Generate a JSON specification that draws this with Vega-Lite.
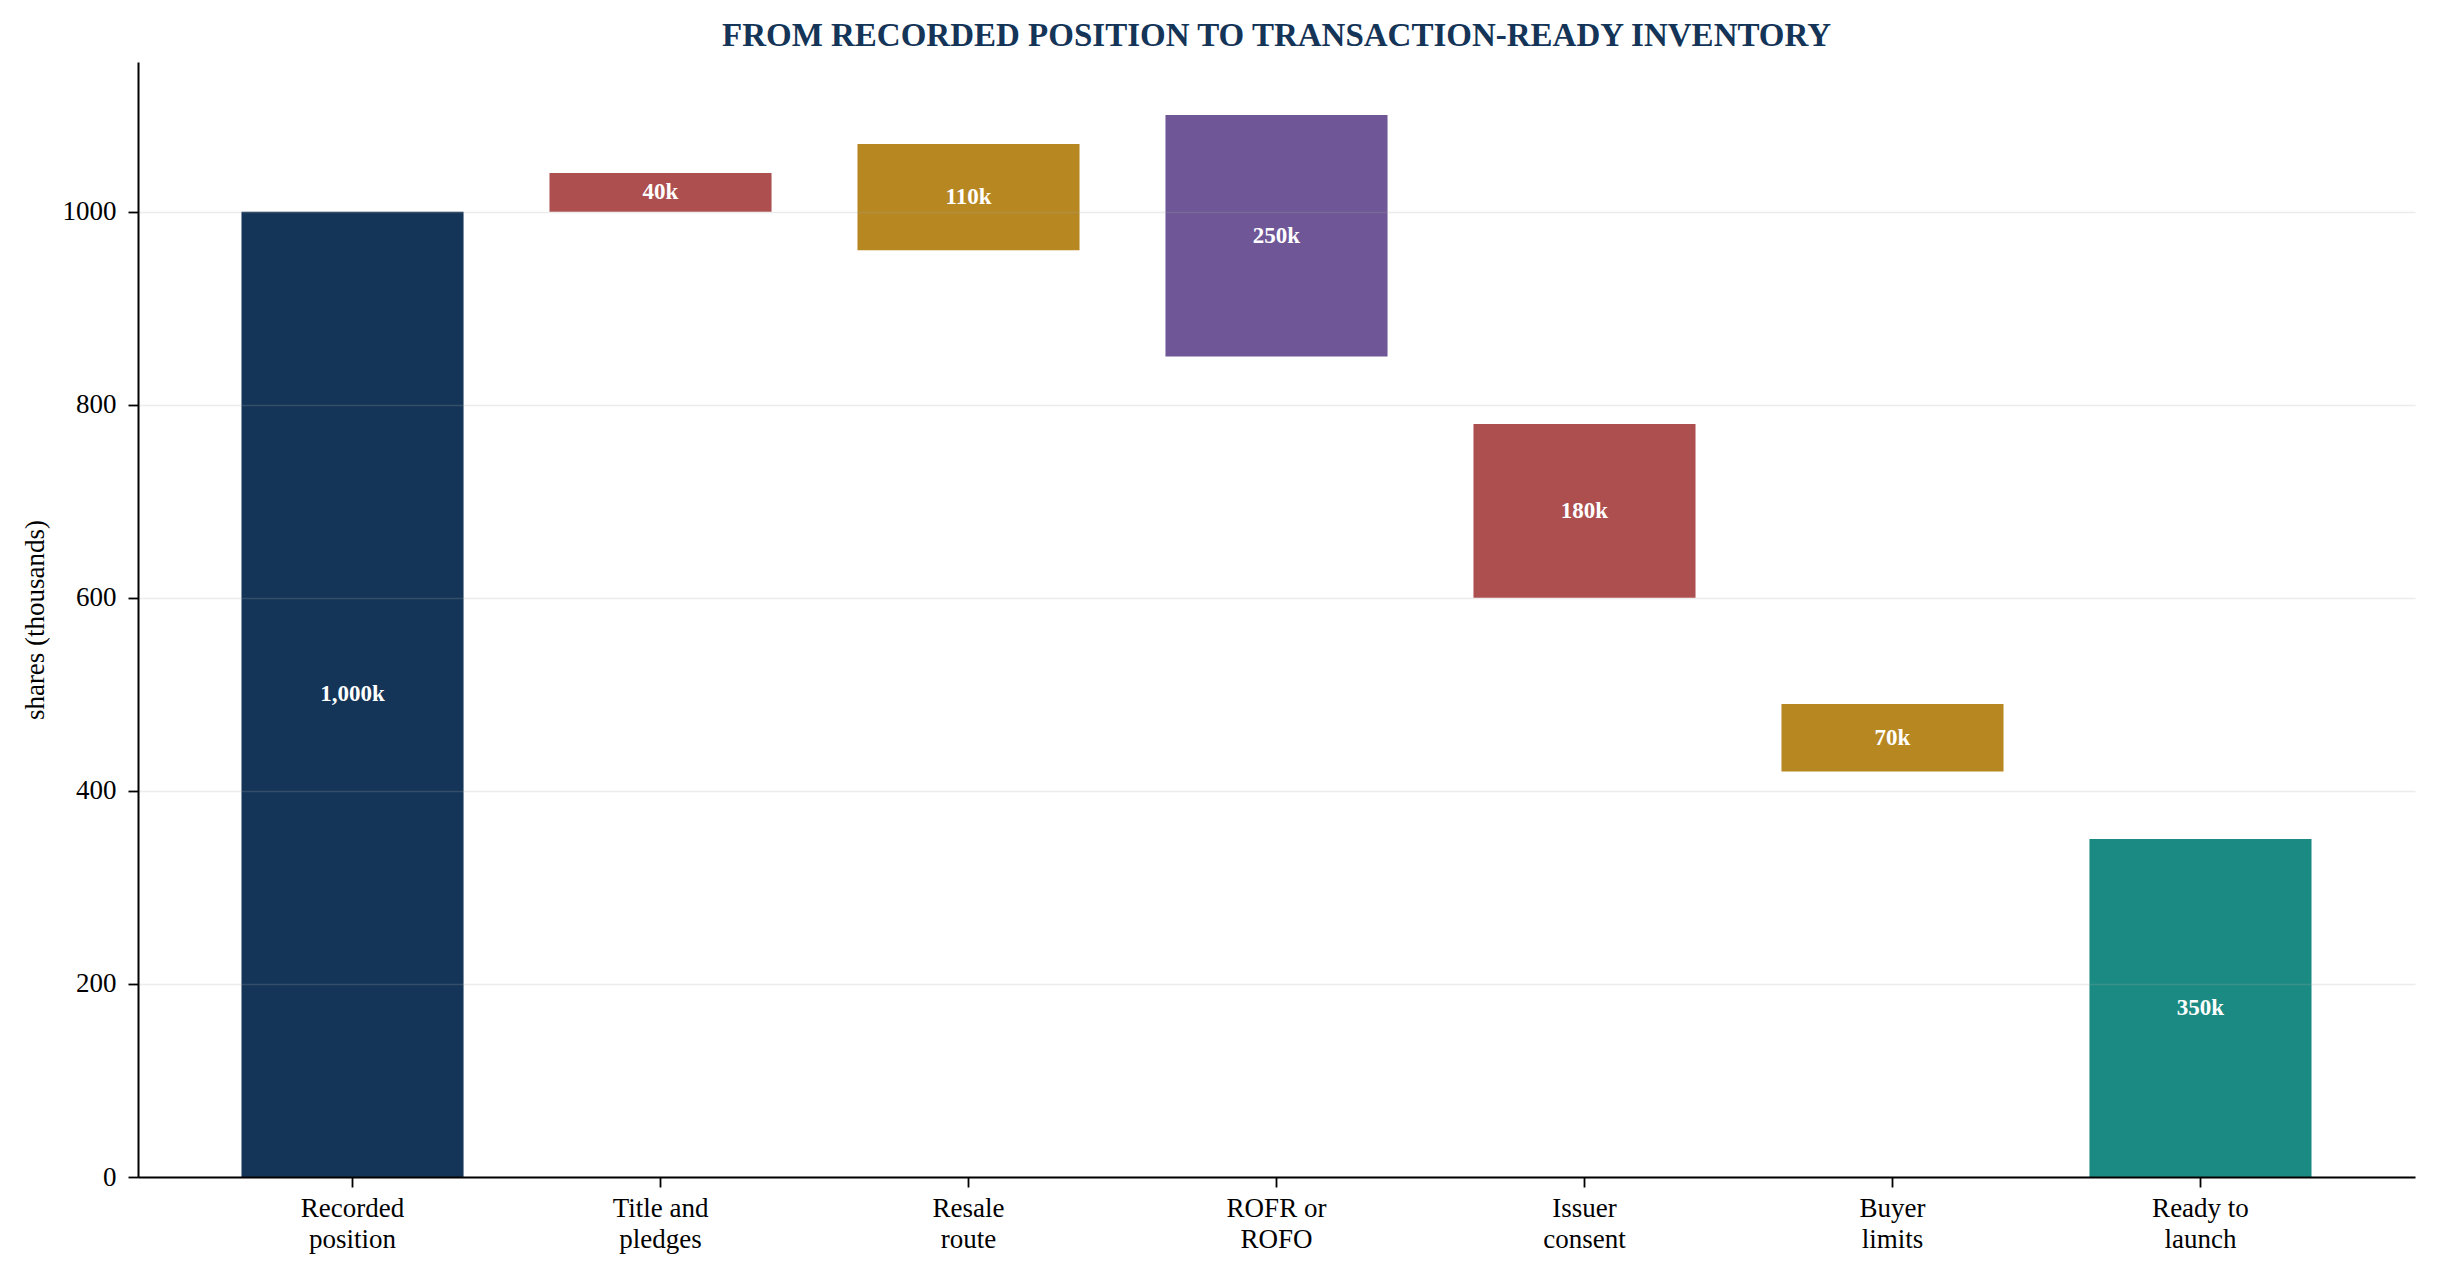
{
  "$schema": "https://vega.github.io/schema/vega-lite/v6.json",
  "autosize": {"type": "none"},
  "width": 2277,
  "height": 1115,
  "padding": {"left": 138, "top": 62, "right": 22, "bottom": 99},
  "background": "white",
  "title": {
    "text": "FROM RECORDED POSITION TO TRANSACTION-READY INVENTORY",
    "anchor": "middle",
    "frame": "group",
    "baseline": "alphabetic",
    "offset": -17,
    "font": "Liberation Serif",
    "fontSize": 33,
    "fontWeight": "bold",
    "color": "#143458"
  },
  "data": {
    "values": [
      {"step": "Recorded position", "start": 0, "end": 1000, "amount": 1000},
      {"step": "Title and pledges", "start": 1000, "end": 1040, "amount": 40},
      {"step": "Resale route", "start": 960, "end": 1070, "amount": 110},
      {"step": "ROFR or ROFO", "start": 850, "end": 1100, "amount": 250},
      {"step": "Issuer consent", "start": 600, "end": 780, "amount": 180},
      {"step": "Buyer limits", "start": 420, "end": 490, "amount": 70},
      {"step": "Ready to launch", "start": 0, "end": 350, "amount": 350}
    ]
  },
  "transform": [
    {"calculate": "(datum.start + datum.end) / 2", "as": "mid"},
    {"calculate": "format(datum.amount, ',') + 'k'", "as": "tag"}
  ],
  "encoding": {
    "x": {
      "field": "step",
      "type": "nominal",
      "sort": null,
      "scale": {"paddingInner": 0.279, "paddingOuter": 0.336},
      "axis": {
        "title": null,
        "labelAngle": 0,
        "labelExpr": "[slice(datum.label, 0, lastindexof(datum.label, ' ')), slice(datum.label, lastindexof(datum.label, ' ') + 1)]",
        "labelLineHeight": 31,
        "labelPadding": 8,
        "zindex": 1
      }
    }
  },
  "layer": [
    {
      "mark": {"type": "bar"},
      "encoding": {
        "y": {
          "field": "start",
          "type": "quantitative",
          "scale": {"domain": [0, 1155], "nice": false},
          "axis": {
            "title": "shares (thousands)",
            "values": [0, 200, 400, 600, 800, 1000],
            "format": "d",
            "grid": true,
            "zindex": 1,
            "titlePadding": 13
          }
        },
        "y2": {"field": "end"},
        "color": {
          "field": "step",
          "type": "nominal",
          "legend": null,
          "scale": {
            "domain": ["Recorded position", "Title and pledges", "Resale route", "ROFR or ROFO", "Issuer consent", "Buyer limits", "Ready to launch"],
            "range": ["#143458", "#ad4f4f", "#b78721", "#6f5797", "#ad4f4f", "#b78721", "#1b8a83"]
          }
        }
      }
    },
    {
      "mark": {
        "type": "text",
        "color": "white",
        "font": "Liberation Serif",
        "fontWeight": "bold",
        "fontSize": 23,
        "baseline": "middle",
        "align": "center"
      },
      "encoding": {
        "y": {"field": "mid", "type": "quantitative"},
        "text": {"field": "tag"}
      }
    }
  ],
  "config": {
    "view": {"stroke": null},
    "axis": {
      "labelFont": "Liberation Serif",
      "titleFont": "Liberation Serif",
      "labelFontSize": 27,
      "titleFontSize": 27,
      "titleFontWeight": "normal",
      "labelColor": "black",
      "titleColor": "black",
      "domainColor": "black",
      "domainWidth": 2,
      "tickColor": "black",
      "tickWidth": 1.8,
      "tickSize": 10,
      "labelPadding": 12,
      "gridColor": "#a8a8a8",
      "gridOpacity": 0.22,
      "gridWidth": 1.6
    },
    "axisX": {"grid": false}
  }
}
